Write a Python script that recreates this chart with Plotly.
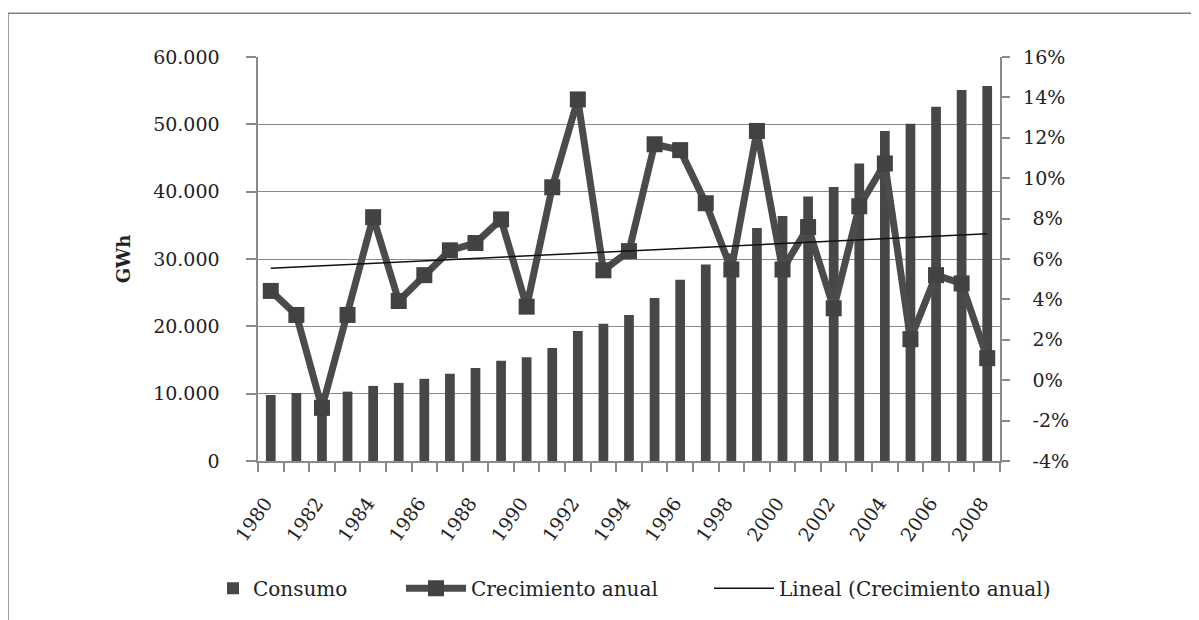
import numpy as np
import plotly.graph_objects as go

years = list(range(1980, 2009))
consumo = [9800, 10100, 9950, 10300, 11150, 11600, 12200, 12950, 13800, 14900,
           15400, 16800, 19300, 20400, 21700, 24200, 26900, 29200, 30800, 34600,
           36400, 39300, 40700, 44200, 49000, 50100, 52600, 55100, 55700]
crecimiento = [4.42, 3.23, -1.37, 3.23, 8.07, 3.92, 5.20, 6.43, 6.79, 7.96,
               3.64, 9.55, 13.90, 5.44, 6.39, 11.68, 11.39, 8.76, 5.48, 12.34,
               5.48, 7.58, 3.56, 8.61, 10.73, 2.03, 5.20, 4.79, 1.09]
tick_years = list(range(1980, 2009, 2))
pct_ticks = list(range(-4, 17, 2))

coef = np.polyfit(years, crecimiento, 1)
tendencia = list(np.polyval(coef, years))

# page has an 8px body margin; work in figure pixel coordinates
OFF = 8
W, H = 1199 - OFF, 620 - OFF
L, T = 258 - OFF, 57 - OFF
R = W - (1000 - OFF)
B = H - (463 - OFF)
pw, ph = W - L - R, H - T - B

def px_x(p):
    return (p - OFF - L) / pw

def px_y(p):
    return (H - B - (p - OFF)) / ph

serif = "DejaVu Serif"
grey = "#8a8a8a"

def pct_label(v):
    pad = "\u2002" if abs(v) >= 10 else "\u2002\u2002"
    return pad + f"{v}%"

fig = go.Figure()
fig.add_trace(go.Bar(x=years, y=consumo, name="Consumo", width=0.38,
                     marker=dict(color="#474747", line=dict(width=0)),
                     legend="legend"))
fig.add_trace(go.Scatter(x=years, y=crecimiento, name="Crecimiento anual", yaxis="y2",
                         mode="lines+markers",
                         line=dict(color="#4b4b4b", width=7),
                         marker=dict(symbol="square", size=16, color="#424242"),
                         legend="legend2"))
fig.add_trace(go.Scatter(x=years, y=tendencia, name="Lineal (Crecimiento anual)", yaxis="y2",
                         mode="lines", line=dict(color="#111111", width=1.5),
                         legend="legend3"))

fig.update_layout(
    width=W, height=H,
    margin=dict(l=L, r=R, t=T, b=B),
    paper_bgcolor="white", plot_bgcolor="white",
    separators=",.",
    showlegend=True,
    font=dict(family=serif, size=19, color="#222222"),
    xaxis=dict(
        range=[1979.5, 2008.5],
        tickvals=tick_years, ticktext=[str(y) + "\u2002" for y in tick_years],
        tickangle=-55, ticks="outside", ticklen=14, tickcolor="rgba(0,0,0,0)",
        showline=True, linecolor=grey, linewidth=1.5,
        showgrid=False, zeroline=False,
        tickfont=dict(family=serif, size=19),
        minor=dict(tickvals=[y - 0.5 for y in years] + [2008.5], ticks="outside",
                   ticklen=9, tickcolor=grey, tickwidth=1.5, showgrid=False),
    ),
    yaxis=dict(
        range=[0, 60000], dtick=10000, tickformat=",d", ticksuffix="\u2003\u2009",
        ticks="outside", ticklen=10, tickcolor=grey, tickwidth=1.5,
        showline=True, linecolor=grey, linewidth=1.5,
        showgrid=True, gridcolor=grey, gridwidth=1.2, zeroline=False,
        tickfont=dict(family=serif, size=19),
        title=dict(text="<b>GWh</b>", font=dict(family=serif, size=18), standoff=18),
    ),
    yaxis2=dict(
        range=[-4, 16], tickvals=pct_ticks, ticktext=[pct_label(v) for v in pct_ticks],
        overlaying="y", side="right",
        ticks="outside", ticklen=8, tickcolor=grey, tickwidth=1.5,
        showline=True, linecolor=grey, linewidth=1.5,
        showgrid=False, zeroline=False,
        tickfont=dict(family=serif, size=19),
    ),
    legend=dict(x=px_x(213), y=px_y(591), xanchor="left", yanchor="middle",
                orientation="h", font=dict(family=serif, size=20), bgcolor="rgba(0,0,0,0)"),
    legend2=dict(x=px_x(401), y=px_y(591), xanchor="left", yanchor="middle",
                 orientation="h", itemwidth=60, font=dict(family=serif, size=20),
                 bgcolor="rgba(0,0,0,0)"),
    legend3=dict(x=px_x(709), y=px_y(591), xanchor="left", yanchor="middle",
                 orientation="h", itemwidth=60, font=dict(family=serif, size=20),
                 bgcolor="rgba(0,0,0,0)"),
    shapes=[dict(type="rect", xref="paper", yref="paper",
                 x0=px_x(8), x1=px_x(1260), y0=px_y(700), y1=px_y(13),
                 line=dict(color="#7f7f7f", width=1.5), fillcolor="rgba(0,0,0,0)",
                 layer="below")],
    bargap=0.6,
)

fig.write_html("out.html")
